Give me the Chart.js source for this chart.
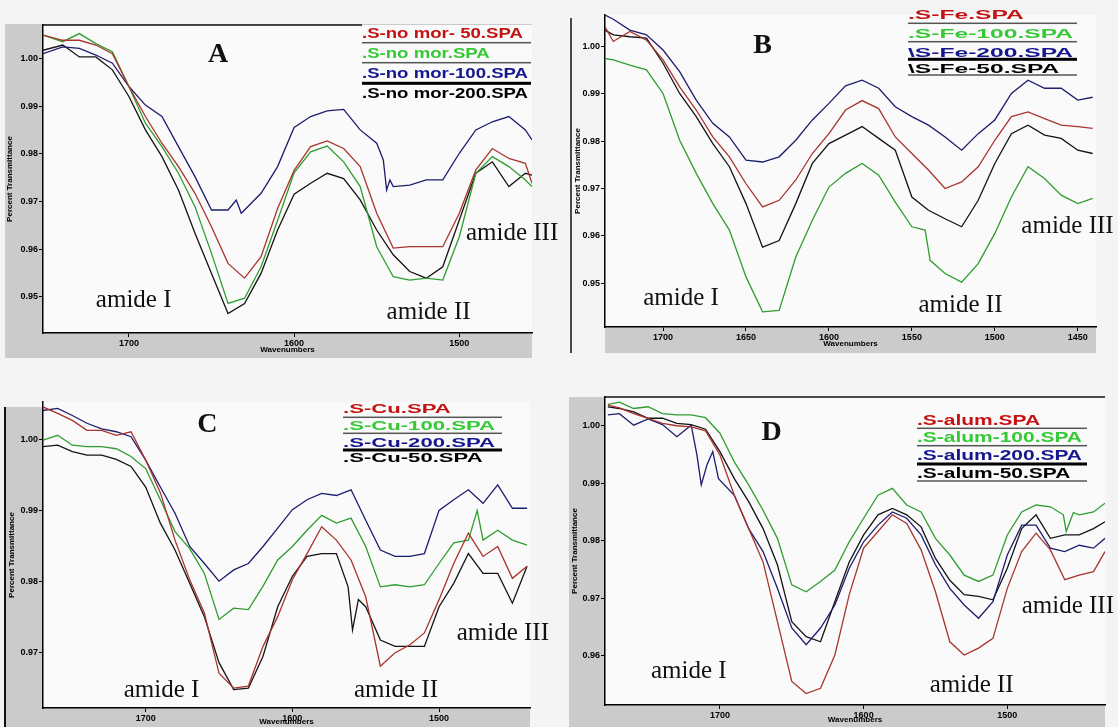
<!DOCTYPE html>
<html>
<head>
<meta charset="utf-8">
<script src="https://cdn.jsdelivr.net/npm/chart.js@4.4.1/dist/chart.umd.min.js"></script>
<style>
  body { margin: 0; background: #f4f4f4; width: 1118px; height: 727px; overflow: hidden; position: relative; }
  canvas { position: absolute; }
</style>
</head>
<body>
<canvas id="cA" width="560" height="365" style="left:0;top:0"></canvas>
<canvas id="cB" width="558" height="365" style="left:560px;top:0"></canvas>
<canvas id="cC" width="560" height="362" style="left:0;top:365px"></canvas>
<canvas id="cD" width="558" height="362" style="left:560px;top:365px"></canvas>
<script>
// ---- panel A : no mordant ----
const waveA = [1752, 1740, 1730, 1720, 1710, 1700, 1690, 1680, 1670, 1660, 1650, 1640, 1630, 1620, 1610, 1600,
  1590, 1580, 1570, 1560, 1550, 1540, 1530, 1520, 1510, 1500, 1490, 1480, 1470, 1460, 1456];
const redA = [1.0049, 1.0038, 1.0038, 1.0028, 1.0010, 0.9941, 0.9878, 0.9822, 0.9773, 0.9717, 0.9647, 0.9570, 0.9539, 0.9584, 0.9685, 0.9765,
  0.9815, 0.9827, 0.9811, 0.9773, 0.9675, 0.9602, 0.9605, 0.9605, 0.9605, 0.9675, 0.9766, 0.9811, 0.9790, 0.9780, 0.9738];
const greenA = [1.0049, 1.0035, 1.0052, 1.0031, 1.0014, 0.9941, 0.9864, 0.9815, 0.9759, 0.9689, 0.9591, 0.9486, 0.9497, 0.9563, 0.9660, 0.9760,
  0.9804, 0.9816, 0.9783, 0.9731, 0.9605, 0.9542, 0.9535, 0.9539, 0.9535, 0.9626, 0.9759, 0.9794, 0.9773, 0.9745, 0.9731];
const blueAWave = [1752, 1740, 1730, 1720, 1710, 1700, 1690, 1680, 1670, 1660, 1650, 1640, 1635, 1632, 1630, 1620, 1610, 1600,
  1590, 1580, 1570, 1560, 1550, 1546, 1544, 1542, 1540, 1530, 1520, 1510, 1500, 1490, 1480, 1470, 1460, 1456];
const blueA = [1.0010, 1.0024, 1.0021, 1.0007, 0.9990, 0.9941, 0.9902, 0.9878, 0.9815, 0.9752, 0.9682, 0.9682, 0.9703, 0.9675, 0.9682, 0.9717, 0.9773, 0.9855,
  0.9878, 0.9890, 0.9893, 0.9850, 0.9822, 0.9787, 0.9724, 0.9745, 0.9731, 0.9734, 0.9745, 0.9745, 0.9801, 0.9850, 0.9867, 0.9878, 0.9850, 0.9829];
const blackA = [1.0017, 1.0028, 1.0003, 1.0003, 0.9976, 0.9920, 0.9850, 0.9794, 0.9724, 0.9633, 0.9549, 0.9465, 0.9486, 0.9549, 0.9640, 0.9715,
  0.9738, 0.9759, 0.9748, 0.9703, 0.9640, 0.9588, 0.9553, 0.9539, 0.9563, 0.9661, 0.9759, 0.9783, 0.9731, 0.9759, 0.9755];
const namesA = [".S-no mor- 50.SPA", ".S-no mor.SPA", ".S-no mor-100.SPA", ".S-no mor-200.SPA"];
const xTicksA = [1700, 1600, 1500];
const yTicksA = [1.00, 0.99, 0.98, 0.97, 0.96, 0.95];

// ---- panel B : Fe ----
const waveB = [1735, 1730, 1720, 1710, 1700, 1690, 1680, 1670, 1660, 1650, 1640, 1630, 1620, 1610, 1600, 1590,
  1580, 1570, 1560, 1550, 1540, 1530, 1520, 1510, 1500, 1490, 1480, 1470, 1460, 1450, 1441];
const redB = [1.0042, 1.0011, 1.0032, 1.0014, 0.9972, 0.9915, 0.9866, 0.9809, 0.9767, 0.9710, 0.9661, 0.9675, 0.9718, 0.9774, 0.9816, 0.9866,
  0.9886, 0.9869, 0.9809, 0.9774, 0.9739, 0.9700, 0.9714, 0.9746, 0.9802, 0.9852, 0.9862, 0.9848, 0.9834, 0.9831, 0.9827];
const greenBWave = [1735, 1730, 1720, 1710, 1700, 1690, 1680, 1670, 1660, 1650, 1640, 1630, 1620, 1610, 1600, 1590,
  1580, 1570, 1560, 1550, 1542, 1539, 1530, 1520, 1510, 1500, 1490, 1480, 1470, 1460, 1450, 1441];
const greenB = [0.9975, 0.9972, 0.9961, 0.9951, 0.9901, 0.9802, 0.9732, 0.9668, 0.9612, 0.9513, 0.9439, 0.9442, 0.9555, 0.9633, 0.9703, 0.9732,
  0.9753, 0.9728, 0.9671, 0.9619, 0.9612, 0.9548, 0.9520, 0.9502, 0.9541, 0.9605, 0.9682, 0.9746, 0.9721, 0.9686, 0.9668, 0.9679];
const blueB = [1.0067, 1.0058, 1.0035, 1.0025, 0.9993, 0.9947, 0.9887, 0.9838, 0.9809, 0.9760, 0.9756, 0.9767, 0.9802, 0.9845, 0.9880, 0.9917,
  0.9929, 0.9912, 0.9873, 0.9852, 0.9834, 0.9809, 0.9781, 0.9816, 0.9845, 0.9901, 0.9929, 0.9912, 0.9912, 0.9887, 0.9893];
const blackB = [1.0035, 1.0025, 1.0021, 1.0018, 0.9965, 0.9901, 0.9852, 0.9795, 0.9746, 0.9668, 0.9576, 0.9590, 0.9668, 0.9753, 0.9795, 0.9813,
  0.9831, 0.9806, 0.9781, 0.9682, 0.9654, 0.9636, 0.9619, 0.9675, 0.9753, 0.9816, 0.9834, 0.9813, 0.9806, 0.9781, 0.9774];
const namesB = [".S-Fe.SPA", ".S-Fe-100.SPA", "\\S-Fe-200.SPA", "\\S-Fe-50.SPA"];
const xTicksB = [1700, 1650, 1600, 1550, 1500, 1450];
const yTicksB = [1.00, 0.99, 0.98, 0.97, 0.96, 0.95];

// ---- panel C : Cu ----
const waveC = [1770, 1760, 1750, 1740, 1730, 1720, 1710, 1700, 1690, 1680, 1670, 1660, 1650, 1640, 1630, 1620, 1610,
  1600, 1590, 1580, 1570, 1560, 1550, 1540, 1530, 1520, 1510, 1500, 1490, 1480, 1470, 1460, 1450, 1440];
const redC = [1.0046, 1.0037, 1.0027, 1.0013, 1.0013, 1.0006, 1.0011, 0.9971, 0.9925, 0.9858, 0.9802, 0.9755, 0.9670, 0.9649, 0.9652, 0.9708, 0.9750,
  0.9802, 0.9839, 0.9877, 0.9858, 0.9830, 0.9778, 0.9680, 0.9699, 0.9710, 0.9727, 0.9774, 0.9825, 0.9868, 0.9835, 0.9849, 0.9804, 0.9821];
const greenCWave = [1770, 1760, 1750, 1740, 1730, 1720, 1710, 1700, 1690, 1680, 1670, 1660, 1650, 1640, 1630, 1620, 1610,
  1600, 1590, 1580, 1570, 1560, 1550, 1540, 1530, 1520, 1510, 1500, 1490, 1480, 1474, 1470, 1460, 1450, 1440];
const greenC = [0.9999, 1.0006, 0.9992, 0.9990, 0.9990, 0.9987, 0.9976, 0.9959, 0.9915, 0.9870, 0.9846, 0.9811, 0.9746, 0.9762, 0.9760, 0.9793, 0.9830,
  0.9849, 0.9872, 0.9893, 0.9882, 0.9889, 0.9849, 0.9792, 0.9795, 0.9792, 0.9795, 0.9825, 0.9854, 0.9858, 0.9900, 0.9858, 0.9872, 0.9858, 0.9851];
const blueC = [1.0041, 1.0044, 1.0034, 1.0023, 1.0015, 1.0011, 1.0004, 0.9971, 0.9933, 0.9896, 0.9849, 0.9825, 0.9800, 0.9816, 0.9825, 0.9849, 0.9875,
  0.9901, 0.9915, 0.9924, 0.9921, 0.9929, 0.9886, 0.9844, 0.9835, 0.9835, 0.9839, 0.9900, 0.9915, 0.9929, 0.9910, 0.9936, 0.9903, 0.9903];
const blackCWave = [1770, 1760, 1750, 1740, 1730, 1720, 1710, 1700, 1690, 1680, 1670, 1660, 1650, 1640, 1630, 1620, 1610,
  1600, 1590, 1580, 1570, 1562, 1559, 1555, 1550, 1540, 1530, 1520, 1510, 1500, 1490, 1480, 1470, 1460, 1450, 1440];
const blackC = [0.9990, 0.9992, 0.9983, 0.9978, 0.9978, 0.9972, 0.9962, 0.9933, 0.9882, 0.9844, 0.9797, 0.9750, 0.9685, 0.9647, 0.9649, 0.9694, 0.9764,
  0.9807, 0.9835, 0.9839, 0.9839, 0.9792, 0.9731, 0.9774, 0.9764, 0.9717, 0.9708, 0.9708, 0.9708, 0.9764, 0.9797, 0.9839, 0.9811, 0.9811, 0.9769, 0.9821];
const namesC = [".S-Cu.SPA", ".S-Cu-100.SPA", ".S-Cu-200.SPA", ".S-Cu-50.SPA"];
const xTicksC = [1700, 1600, 1500];
const yTicksC = [1.00, 0.99, 0.98, 0.97];

// ---- panel D : alum ----
const waveD = [1778, 1770, 1760, 1750, 1740, 1730, 1720, 1710, 1700, 1690, 1680, 1670, 1660, 1650, 1640, 1630, 1620, 1610,
  1600, 1590, 1580, 1570, 1560, 1550, 1540, 1530, 1520, 1510, 1500, 1490, 1480, 1470, 1460, 1450, 1440, 1432];
const redD = [1.0036, 1.0031, 1.0021, 1.0013, 1.0004, 1.0000, 0.9998, 0.9991, 0.9949, 0.9879, 0.9821, 0.9763, 0.9659, 0.9555, 0.9534, 0.9543, 0.9601, 0.9706,
  0.9787, 0.9816, 0.9845, 0.9830, 0.9784, 0.9711, 0.9624, 0.9601, 0.9613, 0.9630, 0.9717, 0.9781, 0.9813, 0.9784, 0.9732, 0.9740, 0.9746, 0.9781];
const greenDWave = [1778, 1770, 1760, 1750, 1740, 1730, 1720, 1710, 1700, 1690, 1680, 1670, 1660, 1650, 1640, 1630, 1620, 1610,
  1600, 1590, 1580, 1570, 1560, 1550, 1540, 1530, 1520, 1510, 1500, 1490, 1480, 1470, 1461, 1459, 1454, 1450, 1440, 1432];
const greenD = [1.0037, 1.0041, 1.0030, 1.0033, 1.0021, 1.0019, 1.0019, 1.0014, 0.9987, 0.9937, 0.9897, 0.9853, 0.9804, 0.9723, 0.9711, 0.9729, 0.9749, 0.9798,
  0.9839, 0.9879, 0.9891, 0.9862, 0.9850, 0.9804, 0.9775, 0.9740, 0.9729, 0.9740, 0.9810, 0.9850, 0.9862, 0.9859, 0.9845, 0.9816, 0.9849, 0.9845, 0.9850, 0.9865];
const blueDWave = [1778, 1770, 1760, 1750, 1740, 1730, 1720, 1716, 1713, 1709, 1705, 1701, 1690, 1680, 1670, 1660, 1650, 1640, 1630, 1620, 1610,
  1600, 1590, 1580, 1570, 1560, 1550, 1540, 1530, 1520, 1510, 1500, 1490, 1480, 1470, 1460, 1450, 1440, 1432];
const blueD = [1.0019, 1.0021, 1.0001, 1.0012, 1.0002, 0.9981, 1.0001, 0.9949, 0.9897, 0.9932, 0.9955, 0.9908, 0.9879, 0.9821, 0.9781, 0.9717, 0.9648, 0.9619, 0.9648, 0.9688, 0.9752,
  0.9798, 0.9827, 0.9850, 0.9839, 0.9810, 0.9758, 0.9717, 0.9688, 0.9665, 0.9694, 0.9775, 0.9827, 0.9827, 0.9787, 0.9781, 0.9792, 0.9787, 0.9804];
const blackD = [1.0033, 1.0030, 1.0024, 1.0013, 1.0013, 1.0004, 1.0002, 0.9994, 0.9955, 0.9908, 0.9868, 0.9821, 0.9758, 0.9659, 0.9633, 0.9624, 0.9694, 0.9763,
  0.9810, 0.9845, 0.9856, 0.9845, 0.9824, 0.9769, 0.9731, 0.9706, 0.9703, 0.9697, 0.9752, 0.9821, 0.9845, 0.9804, 0.9810, 0.9810, 0.9821, 0.9833];
const namesD = [".S-alum.SPA", ".S-alum-100.SPA", ".S-alum-200.SPA", ".S-alum-50.SPA"];
const xTicksD = [1700, 1600, 1500];
const yTicksD = [1.00, 0.99, 0.98, 0.97, 0.96];

const lineColors = ["#a8342e", "#2f9d2f", "#1d1d6e", "#141414"];
const legendColors = ["#c41212", "#36c936", "#16168e", "#000000"];

const tickFont = { family: "'Liberation Sans Narrow', 'Liberation Sans', Arial, sans-serif", size: 9, weight: "bold" };
const titleFont = { family: "'Liberation Sans Narrow', 'Liberation Sans', Arial, sans-serif", size: 8, weight: "bold" };
const serif = "'Liberation Serif', 'Times New Roman', serif";

function decor(p) {
  return {
    id: "decor",
    beforeDraw(chart) {
      const ctx = chart.ctx, a = chart.chartArea;
      ctx.save();
      ctx.fillStyle = "#cbcbcb";
      p.gray.forEach(r => ctx.fillRect(r[0], r[1], r[2], r[3]));
      ctx.fillStyle = "#fafafa";
      ctx.fillRect(a.left, a.top, a.right - a.left, a.bottom - a.top);
      ctx.restore();
    },
    afterDraw(chart) {
      const ctx = chart.ctx;
      const xs = chart.scales.x, ys = chart.scales.y;
      ctx.save();
      ctx.strokeStyle = "#111";
      p.rules.forEach(r => {
        ctx.lineWidth = r[4];
        ctx.beginPath();
        ctx.moveTo(r[0], r[1]);
        ctx.lineTo(r[2], r[3]);
        ctx.stroke();
      });

      ctx.fillStyle = "#111";
      ctx.textBaseline = "alphabetic";
      ctx.font = "bold 28px " + serif;
      ctx.textAlign = "center";
      ctx.fillText(p.letter[0], xs.getPixelForValue(p.letter[1]), ys.getPixelForValue(p.letter[2]));

      ctx.font = "25px " + serif;
      ctx.textAlign = "left";
      p.notes.forEach(n => ctx.fillText(n[0], xs.getPixelForValue(n[1]), ys.getPixelForValue(n[2])));

      // legend: stretched bold labels with rules between rows
      const lg = p.legend;
      ctx.font = "bold " + lg.size + "px 'Liberation Sans', Arial, sans-serif";
      const names = chart.data.datasets.map(d => d.label);
      const widest = Math.max(...names.map(n => ctx.measureText(n).width));
      const k = lg.width / widest;
      names.forEach((n, i) => {
        ctx.save();
        ctx.translate(lg.x, lg.rows[i]);
        ctx.scale(k, 1);
        ctx.fillStyle = legendColors[i];
        ctx.fillText(n, 0, 0);
        ctx.restore();
      });
      lg.lines.forEach(l => {
        ctx.fillStyle = l[1] > 2 ? "#000" : "#555";
        ctx.fillRect(lg.x, l[0] - l[1] / 2, lg.right - lg.x, l[1]);
      });
      ctx.restore();
    }
  };
}

function makePanel(id, p) {
  const series = [p.red, p.green, p.blue, p.black];
  const waves = p.waves || [];
  new Chart(document.getElementById(id), {
    type: "line",
    data: {
      datasets: series.map((vals, i) => ({
        label: p.names[i],
        data: (waves[i] || p.wave).map((w, j) => ({ x: w, y: vals[j] })),
        borderColor: lineColors[i],
        borderWidth: 1.3,
        pointRadius: 0,
        tension: 0,
        fill: false,
      })),
    },
    options: {
      responsive: false,
      animation: false,
      devicePixelRatio: 1,
      layout: { padding: p.pad },
      plugins: { legend: { display: false }, tooltip: { enabled: false } },
      scales: {
        x: {
          type: "linear",
          reverse: true,
          min: p.xMin,
          max: p.xMax,
          afterBuildTicks: s => { s.ticks = p.xTicks.map(v => ({ value: v })); },
          afterFit: s => { s.height = p.xh; },
          border: { display: true, color: "#000", width: 1.5 },
          grid: { display: true, drawOnChartArea: false, drawTicks: true, tickLength: 4, color: "#000" },
          ticks: { color: "#000", font: tickFont, padding: 1, maxRotation: 0, autoSkip: false, callback: v => String(v) },
          title: { display: true, text: "Wavenumbers", color: "#000", font: titleFont, padding: { top: 0, bottom: 0 } },
        },
        y: {
          type: "linear",
          min: p.yMin,
          max: p.yMax,
          afterBuildTicks: s => { s.ticks = p.yTicks.map(v => ({ value: v })); },
          afterFit: s => { s.width = p.yw; },
          border: { display: true, color: "#000", width: 1.5 },
          grid: { display: true, drawOnChartArea: false, drawTicks: true, tickLength: 4, color: "#000" },
          ticks: { color: "#000", font: tickFont, padding: 1, callback: v => v.toFixed(2) },
          title: { display: true, text: "Percent Transmittance", color: "#000", font: titleFont, padding: { top: p.yt, bottom: 0 } },
        },
      },
    },
    plugins: [decor(p)],
  });
}

makePanel("cA", {
  wave: waveA, waves: [null, null, blueAWave, null],
  red: redA, green: greenA, blue: blueA, black: blackA, names: namesA,
  xTicks: xTicksA, yTicks: yTicksA, xMin: 1456, xMax: 1752, yMin: 0.9424, yMax: 1.0070,
  pad: { left: 0, top: 25, right: 28, bottom: 10 }, yw: 43, xh: 22, yt: 5,
  gray: [[5, 24, 527, 334]],
  rules: [[43, 25, 362, 25, 1.5]],
  letter: ["A", 1646, 0.9992],
  notes: [["amide I", 1720, 0.9478], ["amide II", 1544, 0.9453], ["amide III", 1496, 0.9619]],
  legend: { x: 362, right: 531, width: 166, size: 14, rows: [38, 58, 78, 98], lines: [[42.7, 1.5], [62.7, 1.5], [83.3, 3]] },
});

makePanel("cB", {
  wave: waveB, waves: [null, greenBWave, null, null],
  red: redB, green: greenB, blue: blueB, black: blackB, names: namesB,
  xTicks: xTicksB, yTicks: yTicksB, xMin: 1439, xMax: 1735, yMin: 0.9407, yMax: 1.0067,
  pad: { left: 0, top: 15, right: 22, bottom: 16 }, yw: 45, xh: 22, yt: 13,
  gray: [[45, 327, 491, 26]],
  rules: [[11, 18, 11, 353, 1.5]],
  letter: ["B", 1640, 0.9987],
  notes: [["amide I", 1712, 0.9453], ["amide II", 1546, 0.9438], ["amide III", 1484, 0.9605]],
  legend: { x: 348, right: 517, width: 165, size: 13, rows: [19, 38, 56.7, 72.7], lines: [[23.3, 1.5], [41.7, 1.5], [59.3, 3], [75, 1.5]] },
});

makePanel("cC", {
  wave: waveC, waves: [null, greenCWave, null, blackCWave],
  red: redC, green: greenC, blue: blueC, black: blackC, names: namesC,
  xTicks: xTicksC, yTicks: yTicksC, xMin: 1438, xMax: 1770, yMin: 0.9621, yMax: 1.0053,
  pad: { left: 0, top: 37, right: 30, bottom: 0 }, yw: 43, xh: 19, yt: 7,
  gray: [[5, 42, 38, 320], [5, 343, 525, 19]],
  rules: [[5, 42, 5, 362, 2]],
  letter: ["C", 1658, 1.0010],
  notes: [["amide I", 1715, 0.9637], ["amide II", 1558, 0.9637], ["amide III", 1488, 0.9717]],
  legend: { x: 343, right: 502, width: 152, size: 12, rows: [48, 65, 82, 97], lines: [[52.3, 1.5], [68.3, 1.5], [85, 3]] },
});

makePanel("cD", {
  wave: waveD, waves: [null, greenDWave, blueDWave, null],
  red: redD, green: greenD, blue: blueD, black: blackD, names: namesD,
  xTicks: xTicksD, yTicks: yTicksD, xMin: 1432, xMax: 1780, yMin: 0.9514, yMax: 1.0050,
  pad: { left: 0, top: 32, right: 13, bottom: 2 }, yw: 45, xh: 20, yt: 10,
  gray: [[9, 32, 36, 330], [9, 340, 536, 22]],
  rules: [[45, 32, 545, 32, 1.5]],
  letter: ["D", 1664, 0.9975],
  notes: [["amide I", 1748, 0.9561], ["amide II", 1554, 0.9537], ["amide III", 1490, 0.9674]],
  legend: { x: 357, right: 527, width: 165, size: 14, rows: [60, 77, 95, 113], lines: [[63.3, 1.5], [80.7, 1.5], [99, 3], [116, 1.5]] },
});
</script>
</body>
</html>
